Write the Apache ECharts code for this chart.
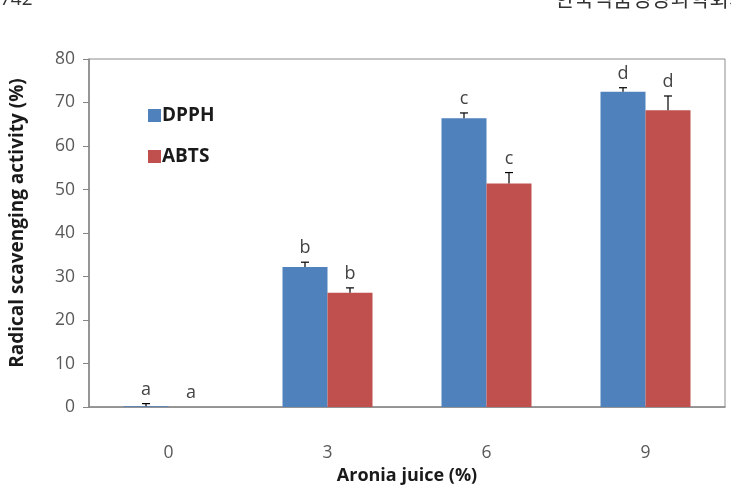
<!DOCTYPE html>
<html>
<head>
<meta charset="utf-8">
<script src="https://cdn.jsdelivr.net/npm/echarts@6/dist/echarts.min.js"></script>
<style>
  html, body { margin: 0; padding: 0; background: #fff; }
  #charts { width: 731px; height: 490px; }
</style>
</head>
<body>
<div id="charts"></div>
<script>
// values
const categories = ['0', '3', '6', '9'];
const dpph = [0.2, 32.2, 66.4, 72.5];
const dpphErr = [0.6, 1.1, 1.2, 0.9];
const dpphLetters = ['a', 'b', 'c', 'd'];
const abts = [0, 26.3, 51.4, 68.2];
const abtsErr = [0, 1.1, 2.5, 3.3];
const abtsLetters = ['a', 'b', 'c', 'd'];
const yTicks = [0, 10, 20, 30, 40, 50, 60, 70, 80];

const BAR_W = 45;
const FONT = '"Open Sans", "Noto Sans", sans-serif';

function errorSeries(name, values, errs, letters, side) {
    return {
        name: name + ' err',
        type: 'custom',
        z: 5,
        data: values.map((v, i) => [i, v, errs[i]]),
        renderItem: function (params, api) {
            const i = api.value(0);
            const v = api.value(1);
            const e = api.value(2);
            const base = api.coord([i, v]);
            const top = api.coord([i, v + e]);
            const x = base[0] + side * BAR_W / 2;
            const children = [];
            if (e > 0) {
                children.push({
                    type: 'line',
                    shape: { x1: x, y1: base[1], x2: x, y2: top[1] },
                    style: { stroke: '#000', lineWidth: 1.2 }
                });
                children.push({
                    type: 'line',
                    shape: { x1: x - 4, y1: top[1], x2: x + 4, y2: top[1] },
                    style: { stroke: '#000', lineWidth: 1.2 }
                });
            }
            children.push({
                type: 'text',
                style: {
                    text: letters[i],
                    x: x,
                    y: Math.min(top[1], base[1]) - 5,
                    align: 'center',
                    verticalAlign: 'bottom',
                    fill: '#444',
                    font: '18px ' + FONT
                }
            });
            return { type: 'group', children: children };
        }
    };
}

let myChart = echarts.init(document.getElementById('charts'));
myChart.setOption({
    animation: false,
    backgroundColor: '#fff',
    grid: {
        left: 86, right: 6, top: 59, bottom: 81,
        show: true,
        borderColor: '#8c8c8c',
        borderWidth: 1
    },
    legend: {
        orient: 'vertical',
        left: 143,
        top: 101,
        itemGap: 22,
        itemWidth: 13,
        itemHeight: 13,
        icon: 'rect',
        data: ['DPPH', 'ABTS'],
        textStyle: { fontFamily: FONT, fontWeight: 'bold', fontSize: 19, color: '#1a1a1a', padding: [0, 0, 0, -4] }
    },
    graphic: [
        { type: 'text', left: 0, top: -10, style: { text: '742', font: '19px ' + FONT, fill: '#333' } },
        { type: 'text', left: 555, top: -12, style: { text: '한국식품영양과학회지', font: '21px "Noto Sans CJK KR"', fill: '#333' } }
    ],
    xAxis: {
        type: 'category',
        data: categories,
        name: 'Aronia juice (%)',
        nameLocation: 'middle',
        nameGap: 59,
        nameTextStyle: { fontFamily: FONT, fontWeight: 'bold', fontSize: 18, color: '#1a1a1a' },
        axisLine: { lineStyle: { color: '#868686', width: 1.5 } },
        axisTick: { show: false },
        axisLabel: { margin: 37, fontFamily: FONT, fontSize: 17.5, color: '#595959' }
    },
    yAxis: {
        type: 'value',
        min: 0,
        max: 80,
        interval: 10,
        name: 'Radical scavenging activity (%)',
        nameLocation: 'middle',
        nameGap: 62,
        nameTextStyle: { fontFamily: FONT, fontWeight: 'bold', fontSize: 19, color: '#1a1a1a', padding: [0, 0, 0, 20] },
        axisLine: { show: true, lineStyle: { color: '#868686', width: 1.5 } },
        axisTick: { show: true, length: 6, lineStyle: { color: '#868686' } },
        splitLine: { show: false },
        axisLabel: {
            margin: 14,
            fontFamily: FONT,
            fontSize: 17.5,
            color: '#595959',
            formatter: v => yTicks.includes(v) ? String(v) : ''
        }
    },
    series: [
        {
            name: 'DPPH',
            type: 'bar',
            data: dpph,
            barWidth: BAR_W,
            barGap: '0%',
            itemStyle: { color: '#4f81bd' }
        },
        {
            name: 'ABTS',
            type: 'bar',
            data: abts,
            barWidth: BAR_W,
            barGap: '0%',
            itemStyle: { color: '#c0504d' }
        },
        errorSeries('DPPH', dpph, dpphErr, dpphLetters, -1),
        errorSeries('ABTS', abts, abtsErr, abtsLetters, 1)
    ]
});
</script>
</body>
</html>
